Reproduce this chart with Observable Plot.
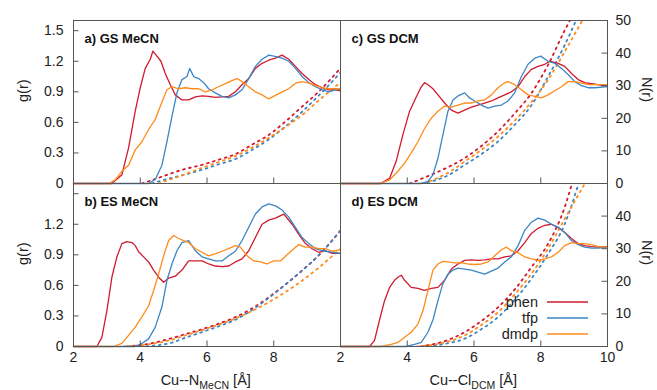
<!DOCTYPE html>
<html><head><meta charset="utf-8">
<script src="https://cdn.jsdelivr.net/npm/d3@7"></script>
<script src="https://cdn.jsdelivr.net/npm/@observablehq/plot@0.6"></script>
<style>body{margin:0;background:#fff;} svg{display:block}</style>
</head><body><div id="chart"></div>
<script>
const cols = ["MeCN", "DCM"];
const rowsF = ["GS", "ES"];
const series = ["phen", "tfp", "dmdp"];
const colors = ["#d11a2e", "#3a86c6", "#ff8b1a"];
const panelTitles = ["a) GS MeCN", "b) ES MeCN", "c) GS DCM", "d) ES DCM"];
const xLabels = ["N", "MeCN", "Cl", "DCM"];

// g(r) curves [r, g]
const gsMeCN_phen = [[2,0],[3.15,0],[3.45,0.085],[3.65,0.35],[3.85,0.71],[4.0,0.94],[4.15,1.13],[4.3,1.22],[4.38,1.3],[4.5,1.25],[4.62,1.2],[4.75,1.08],[4.9,0.97],[5.05,0.87],[5.25,0.82],[5.45,0.82],[5.65,0.85],[5.85,0.86],[6.05,0.855],[6.25,0.845],[6.45,0.85],[6.65,0.855],[6.85,0.9],[7.05,0.97],[7.25,1.03],[7.45,1.13],[7.65,1.18],[7.85,1.21],[8.05,1.23],[8.25,1.26],[8.45,1.22],[8.65,1.15],[8.85,1.08],[9.05,1.02],[9.25,0.97],[9.45,0.94],[9.65,0.92],[9.85,0.92],[10,0.91]];
const gsMeCN_tfp = [[2,0],[4.25,0],[4.45,0.04],[4.65,0.18],[4.8,0.41],[4.95,0.66],[5.1,0.89],[5.25,1.02],[5.4,1.05],[5.48,1.13],[5.6,1.05],[5.75,1.03],[5.9,0.99],[6.05,0.93],[6.25,0.89],[6.45,0.855],[6.65,0.84],[6.85,0.87],[7.05,0.92],[7.25,1.03],[7.45,1.15],[7.65,1.22],[7.85,1.26],[8.0,1.25],[8.25,1.23],[8.45,1.2],[8.65,1.13],[8.85,1.05],[9.05,0.99],[9.25,0.95],[9.45,0.92],[9.65,0.9],[9.85,0.92],[10,0.93]];
const gsMeCN_dmdp = [[2,0],[3.05,0],[3.25,0.035],[3.45,0.12],[3.65,0.18],[3.85,0.33],[4.05,0.41],[4.25,0.53],[4.45,0.63],[4.65,0.8],[4.8,0.92],[4.95,0.95],[5.15,0.93],[5.35,0.94],[5.55,0.93],[5.75,0.93],[5.95,0.9],[6.15,0.92],[6.35,0.95],[6.55,0.98],[6.75,1.01],[6.9,1.03],[7.05,1.0],[7.25,0.95],[7.45,0.9],[7.65,0.87],[7.85,0.83],[8.05,0.865],[8.25,0.9],[8.45,0.93],[8.65,0.985],[8.85,1.0],[9.05,0.985],[9.25,0.96],[9.45,0.94],[9.65,0.93],[9.85,0.93],[10,0.93]];
const esMeCN_phen = [[2,0],[2.7,0],[2.85,0.09],[3.0,0.35],[3.15,0.68],[3.3,0.88],[3.45,1.01],[3.6,1.03],[3.75,1.02],[3.85,0.99],[3.95,0.93],[4.1,0.88],[4.25,0.83],[4.4,0.75],[4.55,0.68],[4.7,0.63],[4.85,0.67],[5.05,0.69],[5.25,0.75],[5.45,0.84],[5.65,0.84],[5.85,0.84],[6.05,0.81],[6.25,0.79],[6.45,0.785],[6.65,0.79],[6.85,0.83],[7.05,0.86],[7.25,0.94],[7.45,1.07],[7.65,1.2],[7.85,1.24],[8.05,1.26],[8.3,1.3],[8.55,1.2],[8.75,1.1],[8.95,1.01],[9.15,0.96],[9.35,0.925],[9.55,0.94],[9.75,0.915],[10,0.915]];
const esMeCN_tfp = [[2,0],[3.85,0],[4.05,0.03],[4.25,0.075],[4.45,0.19],[4.65,0.39],[4.8,0.65],[4.95,0.81],[5.1,0.94],[5.25,1.02],[5.45,1.04],[5.65,0.94],[5.85,0.88],[6.05,0.86],[6.25,0.84],[6.45,0.84],[6.65,0.89],[6.85,0.935],[7.05,1.04],[7.25,1.17],[7.45,1.3],[7.65,1.37],[7.85,1.4],[8.05,1.38],[8.25,1.34],[8.45,1.27],[8.65,1.17],[8.85,1.07],[9.05,1.01],[9.25,0.96],[9.45,0.94],[9.75,0.925],[10,0.915]];
const esMeCN_dmdp = [[2,0],[3.2,0],[3.45,0.03],[3.65,0.11],[3.85,0.19],[4.05,0.29],[4.25,0.4],[4.4,0.55],[4.55,0.71],[4.7,0.89],[4.85,1.04],[5.0,1.09],[5.15,1.06],[5.3,1.04],[5.45,1.02],[5.65,0.96],[5.85,0.925],[6.05,0.89],[6.25,0.91],[6.45,0.935],[6.65,0.96],[6.85,0.99],[7.0,0.975],[7.2,0.89],[7.4,0.84],[7.6,0.83],[7.8,0.81],[8.0,0.84],[8.2,0.84],[8.4,0.9],[8.6,0.96],[8.75,1.0],[8.95,0.975],[9.15,0.975],[9.35,0.96],[9.55,0.96],[9.75,0.935],[10,0.95]];
const gsDCM_phen = [[2,0],[3.2,0],[3.47,0.05],[3.67,0.22],[3.87,0.48],[4.07,0.71],[4.27,0.85],[4.42,0.95],[4.52,0.99],[4.62,0.97],[4.77,0.93],[4.92,0.87],[5.12,0.79],[5.32,0.72],[5.52,0.69],[5.72,0.72],[5.92,0.75],[6.12,0.77],[6.32,0.79],[6.52,0.81],[6.72,0.84],[6.92,0.87],[7.12,0.9],[7.32,0.95],[7.52,1.05],[7.72,1.12],[7.92,1.15],[8.12,1.17],[8.27,1.2],[8.52,1.18],[8.72,1.15],[8.92,1.08],[9.12,1.02],[9.32,0.99],[9.52,0.98],[9.72,0.97],[10,0.95]];
const gsDCM_tfp = [[2,0],[4.42,0],[4.62,0.02],[4.77,0.085],[4.92,0.25],[5.07,0.48],[5.22,0.71],[5.37,0.82],[5.52,0.86],[5.72,0.89],[5.87,0.84],[6.02,0.81],[6.22,0.77],[6.42,0.74],[6.62,0.76],[6.82,0.77],[7.02,0.81],[7.22,0.89],[7.42,1.05],[7.62,1.17],[7.82,1.23],[8.0,1.25],[8.22,1.2],[8.42,1.18],[8.62,1.13],[8.82,1.07],[9.02,1.0],[9.22,0.96],[9.42,0.94],[9.62,0.94],[10,0.95]];
const gsDCM_dmdp = [[2,0],[3.2,0],[3.47,0.035],[3.72,0.12],[3.92,0.2],[4.12,0.3],[4.32,0.41],[4.52,0.54],[4.72,0.64],[4.92,0.71],[5.12,0.76],[5.32,0.75],[5.52,0.77],[5.72,0.79],[5.92,0.79],[6.12,0.81],[6.32,0.82],[6.52,0.87],[6.72,0.94],[6.92,0.99],[7.02,1.0],[7.22,0.97],[7.42,0.92],[7.62,0.87],[7.82,0.855],[8.02,0.84],[8.22,0.87],[8.42,0.91],[8.62,0.95],[8.82,1.0],[9.02,1.0],[9.22,0.985],[9.42,0.97],[9.72,0.97],[10,0.97]];
const esDCM_phen = [[2,0],[2.87,0],[3.02,0.06],[3.17,0.26],[3.32,0.45],[3.47,0.58],[3.62,0.65],[3.72,0.68],[3.82,0.7],[3.92,0.65],[4.12,0.58],[4.32,0.57],[4.52,0.55],[4.72,0.57],[4.92,0.58],[5.12,0.65],[5.32,0.76],[5.52,0.81],[5.72,0.845],[5.92,0.85],[6.12,0.845],[6.32,0.85],[6.52,0.86],[6.72,0.86],[6.92,0.88],[7.12,0.89],[7.32,0.94],[7.52,1.02],[7.72,1.11],[7.92,1.16],[8.12,1.19],[8.32,1.2],[8.52,1.17],[8.72,1.12],[8.92,1.06],[9.12,1.01],[9.32,0.99],[9.52,0.98],[9.72,0.975],[10,0.98]];
const esDCM_tfp = [[2,0],[3.97,0],[4.22,0.02],[4.42,0.04],[4.62,0.14],[4.77,0.26],[4.92,0.45],[5.07,0.62],[5.22,0.71],[5.37,0.75],[5.52,0.77],[5.72,0.76],[5.92,0.75],[6.12,0.73],[6.32,0.71],[6.52,0.74],[6.72,0.77],[6.92,0.83],[7.12,0.88],[7.32,0.99],[7.52,1.14],[7.72,1.22],[7.92,1.26],[8.12,1.24],[8.32,1.2],[8.52,1.17],[8.72,1.12],[8.92,1.04],[9.12,1.0],[9.32,0.975],[9.52,0.965],[9.72,0.965],[10,0.975]];
const esDCM_dmdp = [[2,0],[3.22,0],[3.52,0.02],[3.72,0.04],[3.92,0.09],[4.12,0.14],[4.32,0.22],[4.47,0.35],[4.62,0.55],[4.77,0.75],[4.92,0.81],[5.07,0.835],[5.22,0.83],[5.42,0.82],[5.62,0.82],[5.82,0.81],[6.02,0.805],[6.22,0.81],[6.42,0.83],[6.62,0.89],[6.82,0.95],[6.97,0.975],[7.12,0.94],[7.32,0.92],[7.52,0.88],[7.72,0.86],[7.92,0.845],[8.12,0.86],[8.32,0.88],[8.52,0.925],[8.72,0.99],[8.92,1.02],[9.12,1.01],[9.32,1.01],[9.52,1.0],[9.72,0.98],[10,0.975]];

// N(r) running coordination numbers [r, N]
const nGsMeCN_phen = [[4.05,0],[4.65,2.1],[5.25,4.2],[5.85,5.7],[6.35,7.3],[6.85,9.0],[7.35,11.9],[7.85,14.9],[8.35,19],[8.85,23.6],[9.35,28.2],[10,35.4]];
const nGsMeCN_tfp = [[4.35,0],[4.85,1.5],[5.25,2.5],[5.85,4.2],[6.35,5.9],[6.85,7.5],[7.35,10.3],[7.85,13.5],[8.35,17.5],[8.85,22],[9.35,27],[10,34]];
const nGsMeCN_dmdp = [[4.55,0],[5.25,2.5],[5.85,4.8],[6.35,6.6],[6.85,8.4],[7.35,11],[7.85,14],[8.35,17.3],[8.85,21],[9.35,25.5],[10,31]];
const nEsMeCN_phen = [[3.6,0],[4.35,1.0],[4.85,2.3],[5.35,3.8],[5.85,5.3],[6.35,7.0],[6.85,9.0],[7.35,11.7],[7.85,15.1],[8.35,19],[8.85,23.3],[9.35,28],[10,35.6]];
const nEsMeCN_tfp = [[4.0,0],[4.85,0.9],[5.35,2.7],[5.85,4.4],[6.35,6.2],[6.85,8.2],[7.35,11.2],[7.85,14.9],[8.35,19],[8.85,23.3],[9.35,28],[10,35.5]];
const nEsMeCN_dmdp = [[3.5,0],[4.35,0.8],[4.85,1.8],[5.35,3.4],[5.85,5.0],[6.35,6.7],[6.85,8.6],[7.35,10.9],[7.85,13.6],[8.35,16.7],[8.85,20.2],[9.35,24.2],[10,30]];
const nGsDCM_phen = [[4.07,0],[4.72,2.7],[5.22,5],[5.72,7.8],[6.22,11.5],[6.72,16],[7.22,21.5],[7.72,27.7],[8.22,36.4],[8.72,47],[8.9,50.5]];
const nGsDCM_tfp = [[4.42,0],[5.22,2.5],[5.72,5.7],[6.22,9],[6.72,12.9],[7.22,18],[7.72,24],[8.22,32.8],[8.72,42.5],[9.1,51]];
const nGsDCM_dmdp = [[4.5,0],[5.22,3.3],[5.72,6.7],[6.22,10.3],[6.72,14.4],[7.22,19.3],[7.72,25],[8.22,31.8],[8.72,40.5],[9.3,51]];
const nEsDCM_phen = [[4.4,0],[5.22,2],[5.72,4.4],[6.22,7.8],[6.72,12],[7.22,17.5],[7.72,24.3],[8.22,31.5],[8.72,42.8],[8.95,50.5]];
const nEsDCM_tfp = [[4.62,0],[5.22,1],[5.72,2.4],[6.22,5.3],[6.72,9],[7.22,14.3],[7.72,20.8],[8.22,28.4],[8.72,37.6],[9.15,50.5]];
const nEsDCM_dmdp = [[4.3,0],[5.22,1.5],[5.72,3.4],[6.22,6.6],[6.72,10.5],[7.22,16],[7.72,22.3],[8.22,30],[8.72,39.2],[9.35,50.5]];

// tick values
const xTicks = [2, 4, 6, 8, 10];
const gTicks = [0, 0.3, 0.6, 0.9, 1.2, 1.5];
const nTicks = [0, 10, 20, 30, 40, 50];
const gMax = 1.6, nMax = 50;

// assemble tables
const panels = [
  {row: "GS", col: "MeCN", title: panelTitles[0], g: [gsMeCN_phen, gsMeCN_tfp, gsMeCN_dmdp], n: [nGsMeCN_phen, nGsMeCN_tfp, nGsMeCN_dmdp]},
  {row: "ES", col: "MeCN", title: panelTitles[1], g: [esMeCN_phen, esMeCN_tfp, esMeCN_dmdp], n: [nEsMeCN_phen, nEsMeCN_tfp, nEsMeCN_dmdp]},
  {row: "GS", col: "DCM", title: panelTitles[2], g: [gsDCM_phen, gsDCM_tfp, gsDCM_dmdp], n: [nGsDCM_phen, nGsDCM_tfp, nGsDCM_dmdp]},
  {row: "ES", col: "DCM", title: panelTitles[3], g: [esDCM_phen, esDCM_tfp, esDCM_dmdp], n: [nEsDCM_phen, nEsDCM_tfp, nEsDCM_dmdp]}
];
const gRows = [], nRows = [];
for (const p of panels) {
  series.forEach((s, i) => {
    p.g[i].forEach(([r, g]) => gRows.push({row: p.row, col: p.col, series: s, r, g}));
    p.n[i].forEach(([r, n]) => nRows.push({row: p.row, col: p.col, series: s, r, g: n * gMax / nMax}));
  });
}
const titleRows = panels.map(p => ({row: p.row, col: p.col, title: p.title}));
const xTickRows = [], xLabelRows = [], lTickRows = [], lLabelRows = [], rTickRows = [], rLabelRows = [];
for (const p of panels) {
  xTicks.slice(1, -1).forEach(v => xTickRows.push({row: p.row, col: p.col, v}));
  if (p.col === "MeCN") {
    gTicks.slice(1).forEach(v => lTickRows.push({row: p.row, col: p.col, v}));
    gTicks.forEach(v => { if (p.row === "GS" || v < 1.5) lLabelRows.push({row: p.row, col: p.col, v, label: String(v)}); });
  } else {
    nTicks.slice(1, -1).forEach(v => rTickRows.push({row: p.row, col: p.col, v: v * gMax / nMax}));
    nTicks.forEach(v => { if (p.row === "GS" || v < 50) rLabelRows.push({row: p.row, col: p.col, v: v * gMax / nMax, label: String(v)}); });
  }
}
for (const c of cols) {
  xTicks.forEach(v => { if (c === "DCM" || v < 10) xLabelRows.push({row: "ES", col: c, v, label: String(v)}); });
}

const W = 657, H = 390, mL = 72, mR = 50, mT = 19, mB = 44;
const pw = (W - mL - mR) / 2, ph = (H - mT - mB) / 2, tl = 6;
const frameColor = "#555";

const chart = Plot.plot({
  width: W, height: H, marginLeft: mL, marginRight: mR, marginTop: mT, marginBottom: mB,
  style: {fontFamily: "'Liberation Sans', Arial, sans-serif", fontSize: "14px", background: "#fff", color: "#222"},
  fx: {domain: cols, padding: 0, axis: null},
  fy: {domain: rowsF, padding: 0, axis: null},
  x: {domain: [2, 10], axis: null},
  y: {domain: [0, gMax], axis: null},
  color: {domain: series, range: colors},
  marks: [
    Plot.line(nRows, {x: "r", y: "g", z: "series", stroke: "series", fx: "col", fy: "row", strokeWidth: 1.8, strokeDasharray: "1.8,4.4", curve: "monotone-x", clip: true}),
    Plot.line(gRows, {x: "r", y: "g", z: "series", stroke: "series", fx: "col", fy: "row", strokeWidth: 1.3, strokeLinejoin: "round"}),
    Plot.frame({stroke: frameColor, strokeWidth: 1}),
    Plot.tickX(xTickRows, {x: "v", fx: "col", fy: "row", stroke: frameColor, insetTop: ph - tl}),
    Plot.tickY(lTickRows, {y: "v", fx: "col", fy: "row", stroke: frameColor, insetRight: pw - tl}),
    Plot.tickY(rTickRows, {y: "v", fx: "col", fy: "row", stroke: frameColor, insetLeft: pw - tl}),
    Plot.text(lLabelRows, {y: "v", text: "label", fx: "col", fy: "row", frameAnchor: "left", textAnchor: "end", dx: -10, fill: "#222"}),
    Plot.text(rLabelRows, {y: "v", text: "label", fx: "col", fy: "row", frameAnchor: "right", textAnchor: "start", dx: 8, fill: "#222"}),
    Plot.text(xLabelRows, {x: "v", text: "label", fx: "col", fy: "row", frameAnchor: "bottom", lineAnchor: "top", dy: 6, fill: "#222"}),
    Plot.text(titleRows, {text: "title", fx: "col", fy: "row", frameAnchor: "top-left", dx: 11, dy: 18, lineAnchor: "middle", fontWeight: "bold", fontSize: 13, fill: "#111"}),
    Plot.text(rowsF.map(r => ({row: r, col: "MeCN"})), {text: () => "g(r)", fx: "col", fy: "row", frameAnchor: "left", rotate: -90, dx: -50, fontSize: 14.5, fill: "#222"}),
    Plot.text(rowsF.map(r => ({row: r, col: "DCM"})), {text: () => "N(r)", fx: "col", fy: "row", frameAnchor: "right", rotate: 90, dx: 39, fontSize: 14.5, fill: "#222"})
  ]
});
document.getElementById("chart").appendChild(chart);

// x-axis titles with subscripts, and the legend
const svg = d3.select(chart);
[[mL + pw / 2, xLabels[0], xLabels[1]], [mL + 1.5 * pw, xLabels[2], xLabels[3]]].forEach(([cx, atom, sub]) => {
  const t = svg.append("text").attr("x", cx).attr("y", 385).attr("text-anchor", "middle")
    .attr("font-size", 14.5).attr("fill", "#222");
  t.append("tspan").text("Cu--" + atom);
  t.append("tspan").attr("font-size", 10.5).attr("dy", 4).text(sub);
  t.append("tspan").attr("dy", -4).text(" [Å]");
});
const lg = svg.append("g");
series.forEach((s, i) => {
  const y = 302 + i * 16;
  lg.append("text").attr("x", 538).attr("y", y).attr("dy", "0.35em").attr("text-anchor", "end")
    .attr("font-size", 14.5).attr("fill", "#222").text(s);
  lg.append("line").attr("x1", 547).attr("x2", 588).attr("y1", y).attr("y2", y)
    .attr("stroke", colors[i]).attr("stroke-width", 1.5);
});
</script>
</body></html>
